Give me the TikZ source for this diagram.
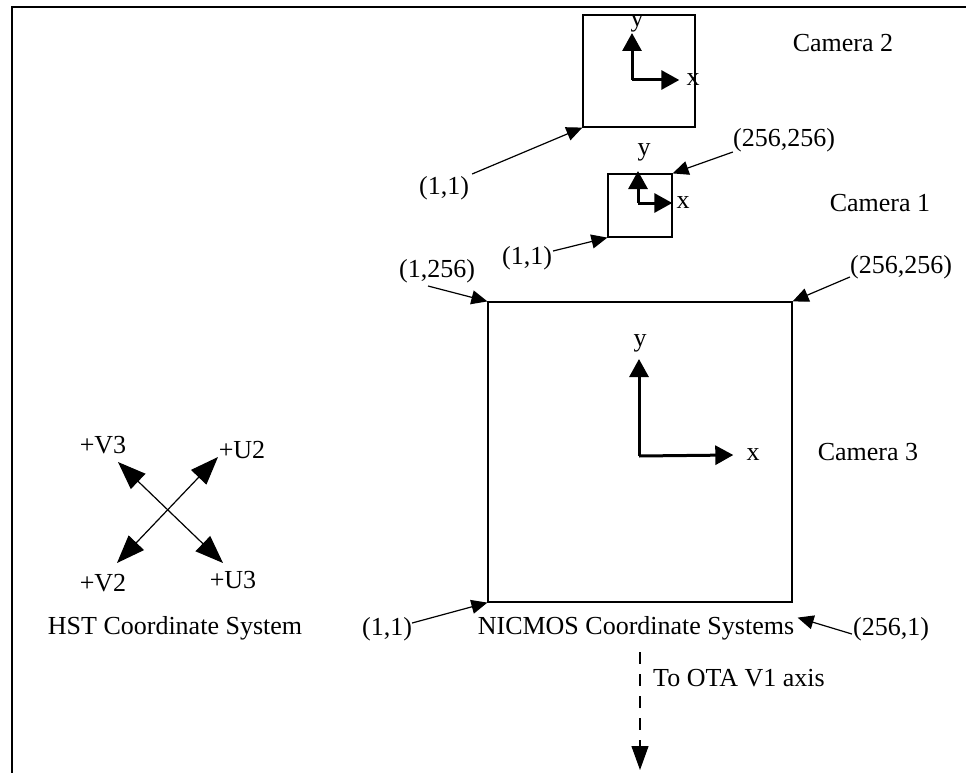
\documentclass[tikz,border=0pt]{standalone}
\usepackage{fontspec}
\setmainfont{Liberation Serif}
\usetikzlibrary{arrows.meta, positioning, calc}

\begin{document}
\begin{tikzpicture}[
  x=1pt, y=-1pt,
  txt/.style  = {inner sep=0pt, font=\fontsize{26}{30}\selectfont},
  cam/.style  = {draw, line width=1.2pt, inner sep=0pt},
  arr/.style  = {-{Triangle[length=16pt, width=14pt]}, line width=1.2pt},
  ax/.style   = {-{Triangle[length=18pt, width=19pt]}, line width=3pt},
  hst/.style  = {{Triangle[length=28pt, width=21pt]}-{Triangle[length=28pt, width=21pt]},
                 line width=1.2pt},
  ota/.style  = {-{Triangle[length=24pt, width=17pt]}, line width=1.2pt,
                 dash pattern=on 12pt off 10pt},
]
\useasboundingbox (0,0) rectangle (966,773);

% -- frame ---------------------------------------------------------------------
\draw[line width=1.2pt] (966,7) -- (12,7) -- (12,773);

% -- Camera 2 ------------------------------------------------------------------
\node[cam, minimum width=112pt, minimum height=112pt] (cam2) at (639,71) {};
\node[txt] (cam2name) at (843,43) {Camera 2};
\coordinate (o2) at (632,80);
\node[txt] (y2) at (637,23) {y};
\node[txt] (x2) at (693,80) {x};
\draw[ax] (o2) -- (o2 |- 0,33);
\draw[ax] (o2) -- ([xshift=-7pt]x2.west);
\node[txt] (p2ll) at (444,188) {(1,1)};
\draw[arr] ([xshift=3pt, yshift=14pt]p2ll.east) -- (cam2.south west);

% -- Camera 1 ------------------------------------------------------------------
\node[cam, minimum width=64pt, minimum height=63pt] (cam1) at (640,205.5) {};
\node[txt] (cam1name) at (880,203) {Camera 1};
\coordinate (o1) at (638,203);
\node[txt] (y1) at (644,152) {y};
\node[txt] (x1) at (683,203) {x};
\draw[ax] (o1) -- (o1 |- 0,171);
\draw[ax] (o1) -- ([xshift=-4pt]x1.west);
\node[txt] (p1ll) at (527,258) {(1,1)};
\draw[arr] ([xshift=1pt, yshift=7pt]p1ll.east) -- (cam1.south west);
\node[txt] (p1ur) at (784,140) {(256,256)};
\draw[arr] ([yshift=-12pt]p1ur.west) -- (cam1.north east);

% -- Camera 3 ------------------------------------------------------------------
\node[cam, minimum width=304pt, minimum height=300pt] (cam3) at (640,452) {};
\node[txt] (cam3name) at (868,452) {Camera 3};
\coordinate (o3) at (639,456);
\node[txt] (y3) at (640,343) {y};
\node[txt] (x3) at (753,455) {x};
\draw[ax] (o3) -- (o3 |- 0,359);
\draw[ax] (o3) -- ([xshift=-13pt]x3.west);
\node[txt] (p3ul) at (437,271) {(1,256)};
\draw[arr] ([xshift=-9pt, yshift=-15pt]p3ul.center) -- (cam3.north west);
\node[txt] (p3ur) at (901,267) {(256,256)};
\draw[arr] ([yshift=-10pt]p3ur.west) -- (cam3.north east);
\node[txt] (p3ll) at (387,629) {(1,1)};
\draw[arr] ([yshift=6pt]p3ll.east) -- (cam3.south west);
\node[txt] (p3lr) at (891,629) {(256,1)};
\draw[arr] ([xshift=-1pt, yshift=-5pt]p3lr.west) -- ([xshift=5pt, yshift=-15pt]cam3.south east);
\node[txt] (nicmos) at (636,628) {NICMOS Coordinate Systems};

% -- to OTA V1 axis --------------------------------------------------------------
\coordinate (otatop) at (640,652);
\coordinate (otatip) at (640,770);
\draw[ota] (otatop) -- (otatip);
\node[txt, anchor=west] (ota) at (653,678) {To OTA V1 axis};

% -- HST Coordinate System ---------------------------------------------------------
\coordinate (v3) at (118,462);
\coordinate (u3) at (223,563);
\coordinate (u2) at (218,457);
\coordinate (v2) at (117,563);
\draw[hst] (u3) -- (v3);
\draw[hst] (v2) -- (u2);
\node[txt] (lv3) at (103,445) {+V3};
\node[txt] (lu2) at (242,450) {+U2};
\node[txt] (lv2) at (103,583) {+V2};
\node[txt] (lu3) at (233,580) {+U3};
\node[txt] (hstname) at (175,628) {HST Coordinate System};

\end{tikzpicture}
\end{document}
